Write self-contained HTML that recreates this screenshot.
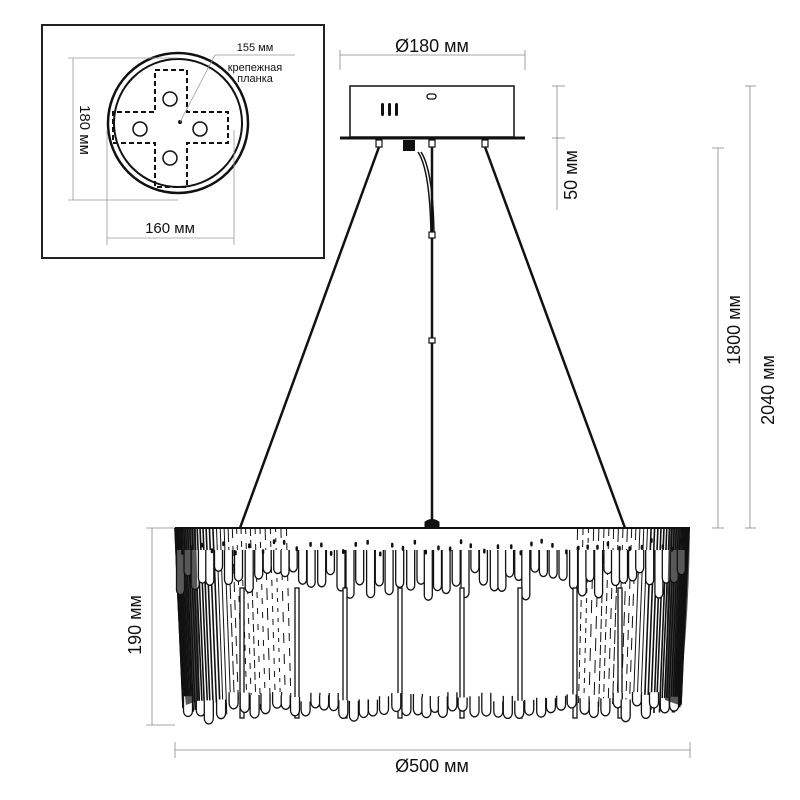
<!DOCTYPE html>
<html><head><meta charset="utf-8"><style>
html,body{margin:0;padding:0;background:#fff;}
svg{display:block}
text{font-family:"Liberation Sans",sans-serif;fill:#111}
</style></head><body>
<svg id="s" width="800" height="800" viewBox="0 0 800 800" xmlns="http://www.w3.org/2000/svg">
<rect x="42" y="25" width="282" height="233" fill="none" stroke="#222" stroke-width="2"/>
<circle cx="178" cy="123" r="70" fill="none" stroke="#111" stroke-width="2.5"/>
<circle cx="178" cy="123" r="64" fill="none" stroke="#111" stroke-width="2"/>
<path d="M155 70 H187 V112 H228 V143 H187 V187 H155 V143 H113 V112 H155 Z" fill="none" stroke="#111" stroke-width="2" stroke-dasharray="5,3"/>
<g fill="none" stroke="#111" stroke-width="1.5">
<circle cx="170" cy="99" r="7"/><circle cx="140" cy="129" r="7"/><circle cx="200" cy="129" r="7"/><circle cx="170" cy="158" r="7"/>
</g>
<circle cx="180" cy="122" r="2" fill="#111"/>
<g stroke="#999" stroke-width="0.8" fill="none">
<line x1="180" y1="122" x2="215" y2="55"/><line x1="215" y1="55" x2="295" y2="55"/>
<line x1="73" y1="58" x2="73" y2="200"/><line x1="68" y1="58" x2="178" y2="58"/><line x1="68" y1="200" x2="178" y2="200"/>
<line x1="107" y1="130" x2="107" y2="245"/><line x1="234" y1="130" x2="234" y2="245"/><line x1="107" y1="238" x2="234" y2="238"/>
</g>
<text x="255" y="51" font-size="11" text-anchor="middle">155 мм</text>
<text x="255" y="71" font-size="11" text-anchor="middle">крепежная</text>
<text x="255" y="82" font-size="11" text-anchor="middle">планка</text>
<text x="0" y="0" font-size="15" text-anchor="middle" transform="translate(80,130) rotate(90)">180 мм</text>
<text x="170" y="233" font-size="15" text-anchor="middle">160 мм</text>

<g stroke="#111" fill="none">
<line x1="340" y1="55" x2="525" y2="55" stroke="#888" stroke-width="0.8"/>
<line x1="340" y1="50" x2="340" y2="70" stroke="#888" stroke-width="0.8"/>
<line x1="525" y1="50" x2="525" y2="70" stroke="#888" stroke-width="0.8"/>
<rect x="350" y="86" width="164" height="51" stroke-width="1.5"/>
<line x1="340" y1="138" x2="525" y2="138" stroke-width="3"/>
<rect x="427" y="94" width="9" height="5" rx="2.5" stroke-width="1.3"/>
</g>
<g fill="#111">
<rect x="381" y="103" width="3" height="13" rx="1.5"/><rect x="388" y="103" width="3" height="13" rx="1.5"/><rect x="395" y="103" width="3" height="13" rx="1.5"/>
<rect x="403" y="140" width="12" height="11"/>
</g>
<g stroke="#111" stroke-width="1.2" fill="#fff">
<rect x="376" y="140" width="6" height="7"/><rect x="429" y="140" width="6" height="7"/><rect x="482" y="140" width="6" height="7"/>
</g>
<g stroke="#111" fill="none">
<line x1="379" y1="147" x2="240" y2="528" stroke-width="2.5"/>
<line x1="485" y1="147" x2="625" y2="528" stroke-width="2.5"/>
<line x1="432" y1="147" x2="432" y2="522" stroke-width="2.5"/>
<path d="M418 152 Q430 170 431 235" stroke-width="1.5"/>
<path d="M421 152 Q433 170 434 235" stroke-width="1.5"/>
<rect x="429" y="232" width="6" height="6" stroke-width="1.2" fill="#fff"/>
<rect x="429" y="338" width="6" height="5" stroke-width="1.2" fill="#fff"/>
<path d="M425 528 V522 Q432 517 439 522 V528 Z" fill="#111"/>
</g>
<text x="432" y="52" font-size="18" text-anchor="middle">Ø180 мм</text>

<g stroke="#888" stroke-width="0.8">
<line x1="557" y1="86" x2="557" y2="210"/><line x1="552" y1="86" x2="565" y2="86"/><line x1="552" y1="138" x2="565" y2="138"/>
<line x1="718" y1="148" x2="718" y2="528"/><line x1="712" y1="148" x2="724" y2="148"/><line x1="712" y1="528" x2="724" y2="528"/>
<line x1="750" y1="86" x2="750" y2="528"/><line x1="745" y1="86" x2="756" y2="86"/><line x1="745" y1="528" x2="756" y2="528"/>
<line x1="152" y1="528" x2="152" y2="725"/><line x1="146" y1="528" x2="175" y2="528"/><line x1="146" y1="725" x2="175" y2="725"/>
<line x1="175" y1="750" x2="690" y2="750"/><line x1="175" y1="742" x2="175" y2="758"/><line x1="690" y1="742" x2="690" y2="758"/>
</g>
<text font-size="18" text-anchor="middle" transform="translate(577,175) rotate(-90)">50 мм</text>
<text font-size="18" text-anchor="middle" transform="translate(740,330) rotate(-90)">1800 мм</text>
<text font-size="18" text-anchor="middle" transform="translate(774,390) rotate(-90)">2040 мм</text>
<text font-size="18" text-anchor="middle" transform="translate(141,625) rotate(-90)">190 мм</text>
<text x="432" y="772" font-size="18" text-anchor="middle">Ø500 мм</text>

<g id="ch"></g>
</svg>
<script>
(function(){
var g=document.getElementById('ch'),h='';
var L=175,R=690,T=528;
var seed=7;function rnd(){seed=(seed*9301+49297)%233280;return seed/233280;}
h+='<line x1="'+L+'" y1="'+T+'" x2="'+R+'" y2="'+T+'" stroke="#111" stroke-width="2"/>';
var N=120;
for(var i=0;i<=N;i++){
 var u=i/N, a=Math.PI*(1-u); var x=432+257*Math.cos(a);
 var edge=Math.abs(Math.cos(a));
 if(edge<0.55) continue;
 var bot=700+rnd()*15;
 var w=edge>0.85?1.6:1;
 h+='<line x1="'+x.toFixed(1)+'" y1="'+T+'" x2="'+(x+(x<432?8:-8)*edge).toFixed(1)+'" y2="'+bot.toFixed(1)+'" stroke="#111" stroke-width="'+w+'" stroke-dasharray="'+(edge>0.8?'none':(4+rnd()*10).toFixed(0)+','+(3+rnd()*8).toFixed(0))+'"/>';
}
for(var x=L+4;x<R-2;x+=7+rnd()*4){
 var len=38+rnd()*30; var yb=T+len;
 h+='<path d="M'+(x-2.5).toFixed(1)+' '+(T+22)+' V'+yb.toFixed(1)+' a4 5 0 0 0 8 0 V'+(T+22)+'" fill="#fff" stroke="#111" stroke-width="1.3"/>';
}
for(var x=L+6;x<R-6;x+=9+rnd()*5){
 h+='<rect x="'+x.toFixed(1)+'" y="'+(T+10+rnd()*14).toFixed(1)+'" width="2.5" height="5" rx="1.2" fill="#111"/>';
}
[242,297,345,400,462,520,575,620].forEach(function(x){
 h+='<rect x="'+(x-2)+'" y="'+(T+60)+'" width="4" height="130" fill="#fff" stroke="#111" stroke-width="1.3"/>';
});
for(var x=L+12;x<R-12;x+=8+rnd()*5){
 var y0=692+rnd()*10, len=8+rnd()*10;
 h+='<path d="M'+(x-3.5).toFixed(1)+' '+y0.toFixed(1)+' V'+(y0+len).toFixed(1)+' a4.5 5.5 0 0 0 9 0 V'+y0.toFixed(1)+'" fill="#fff" stroke="#111" stroke-width="1.3"/>';
}
h+='<path d="M175 528 L196 528 L200 700 L186 705 Q176 620 175 528Z" fill="#111" opacity="0.7"/>';
h+='<path d="M690 528 L669 528 L665 700 L679 705 Q689 620 690 528Z" fill="#111" opacity="0.7"/>';
g.innerHTML=h;
})();
</script>
</body></html>
